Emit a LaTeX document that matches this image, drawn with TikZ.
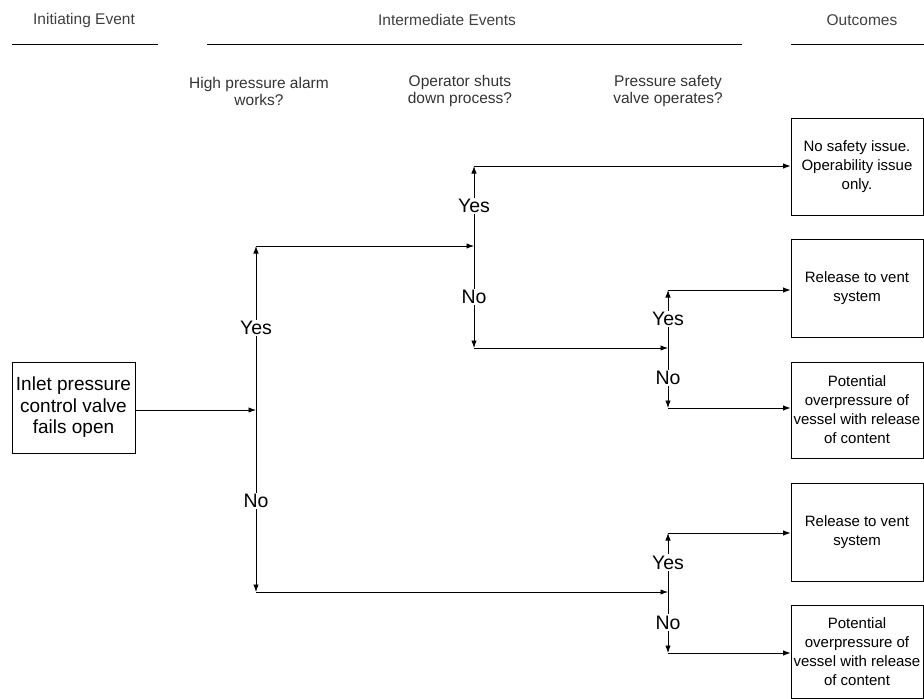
\documentclass[tikz,border=0pt]{standalone}
\usepackage{fontspec}
\setmainfont{Liberation Sans}
\usetikzlibrary{arrows.meta}

\begin{document}
\begin{tikzpicture}[x=1pt, y=-1pt, line width=0.9pt,
    tip/.style={-{Latex[length=7.5pt,width=5.5pt]}},
    head/.style={font=\fontsize{15.5}{17}\selectfont, align=center, text=black!75},
    quest/.style={font=\fontsize{15.5}{17}\selectfont, align=center, text=black!80},
    evbox/.style={draw, align=center, inner sep=0pt},
    outbox/.style={evbox, minimum width=132pt, font=\fontsize{15}{19}\selectfont},
    branch/.style={fill=white, inner sep=1.5pt, font=\fontsize{19.5}{21}\selectfont}]

\useasboundingbox (0,0) rectangle (924,699);

% --- column headers ---
\node[head] (hinit)  at (84,20)  {Initiating Event};
\node[head] (hinter) at (447,20) {Intermediate Events};
\node[head] (hout)   at (862,20) {Outcomes};
\draw[line width=0.8pt] (12,44)  -- (158,44);
\draw[line width=0.8pt] (207,44) -- (742,44);
\draw[line width=0.8pt] (791,44) -- (924,44);

% --- questions ---
\node[quest] (qalarm) at (259,91) {High pressure alarm\\works?};
\node[quest] (qoper)  at (460,91) {Operator shuts\\down process?};
\node[quest] (qpsv)   at (668,91) {Pressure safety\\valve operates?};

% --- initiating event ---
\node[evbox, minimum width=123pt, minimum height=91pt,
      font=\fontsize{19}{21.5}\selectfont] (init) at (73.5,407.5)
    {Inlet pressure\\control valve\\fails open};

% --- outcomes ---
\node[outbox, minimum height=97pt] (out1) at (857,166.5)
    {No safety issue.\\Operability issue\\only.};
\node[outbox, minimum height=98pt] (out2) at (857,288)
    {Release to vent\\system};
\node[outbox, minimum height=96pt] (out3) at (857,410)
    {Potential\\overpressure of\\vessel with release\\of content};
\node[outbox, minimum height=98pt] (out4) at (857,532)
    {Release to vent\\system};
\node[outbox, minimum height=93pt] (out5) at (857,651.5)
    {Potential\\overpressure of\\vessel with release\\of content};

% --- branch points ---
\coordinate (alarm)    at (256,410);
\coordinate (alarmyes) at (256,246);
\coordinate (alarmno)  at (256,592);
\coordinate (oper)     at (474,246);
\coordinate (operyes)  at (474,166);
\coordinate (operno)   at (474,348);
\coordinate (psva)     at (668,348);
\coordinate (psvayes)  at (668,290);
\coordinate (psvano)   at (668,408);
\coordinate (psvb)     at (668,592);
\coordinate (psvbyes)  at (668,533);
\coordinate (psvbno)   at (668,653);

% --- tree ---
\draw[tip] (init.east |- alarm) -- (alarm);
\draw[tip] (alarm) -- node[branch] {Yes} (alarmyes);
\draw[tip] (alarm) -- node[branch] {No}  (alarmno);
\draw[tip] (alarmyes) -- (oper);
\draw[tip] (alarmno)  -- (psvb);

\draw[tip] (oper) -- node[branch] {Yes} (operyes);
\draw[tip] (oper) -- node[branch] {No}  (operno);
\draw[tip] (operyes) -- (operyes -| out1.west);
\draw[tip] (operno)  -- (psva);

\draw[tip] (psva) -- node[branch] {Yes} (psvayes);
\draw[tip] (psva) -- node[branch] {No}  (psvano);
\draw[tip] (psvayes) -- (psvayes -| out2.west);
\draw[tip] (psvano)  -- (psvano -| out3.west);

\draw[tip] (psvb) -- node[branch] {Yes} (psvbyes);
\draw[tip] (psvb) -- node[branch] {No}  (psvbno);
\draw[tip] (psvbyes) -- (psvbyes -| out4.west);
\draw[tip] (psvbno)  -- (psvbno -| out5.west);

\end{tikzpicture}
\end{document}
